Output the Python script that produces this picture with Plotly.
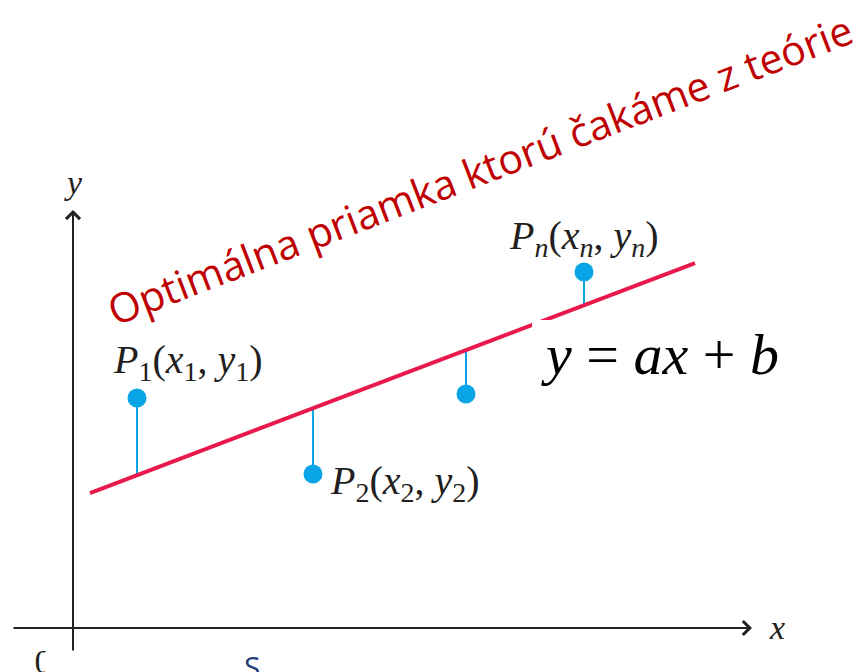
import plotly.graph_objects as go

# ---- data (origin at the axes crossing, 1 unit = 1 px) ----
point_names = ["1", "2", "3", "n"]
point_x = [64, 240, 393, 511]
point_y = [230, 154, 234, 356]
slope_a = 0.380
intercept_b = 128.5
line_x = [17, 622]

line_y = [slope_a * x + intercept_b for x in line_x]
fit_at_points = [slope_a * x + intercept_b for x in point_x]

RED = "#e8194b"
BLUE = "#0aa5e6"
INK = "#231f20"
SERIF = "Liberation Serif"

fig = go.Figure()

# stems (residuals)
for px, py, fy in zip(point_x, point_y, fit_at_points):
    fig.add_trace(go.Scatter(x=[px, px], y=[py, fy], mode="lines",
                             line=dict(color=BLUE, width=2), showlegend=False,
                             hoverinfo="skip"))

# regression line
fig.add_trace(go.Scatter(x=line_x, y=line_y, mode="lines",
                         line=dict(color=RED, width=4), showlegend=False))

# points
fig.add_trace(go.Scatter(x=point_x, y=point_y, mode="markers",
                         marker=dict(color=BLUE, size=19), showlegend=False))

# origin label (partly hidden by the white strip below, as in the reference)
fig.add_trace(go.Scatter(x=[-30], y=[-36], mode="text", text=["0"],
                         textfont=dict(family=SERIF, size=34, color=INK),
                         showlegend=False, hoverinfo="skip"))

annotations = []

# point labels
label_shift = {"1": (51, 36), "2": (92, -9), "n": (0, 34)}
for name, px, py in zip(point_names, point_x, point_y):
    if name not in label_shift:
        continue
    dx, dy = label_shift[name]
    s = "<i>n</i>" if name == "n" else name
    txt = f"<i>P</i><sub>{s}</sub>(<i>x</i><sub>{s}</sub>, <i>y</i><sub>{s}</sub>)"
    annotations.append(dict(x=px, y=py, text=txt, showarrow=False,
                            xshift=dx, yshift=dy, xanchor="center", yanchor="middle",
                            font=dict(family=SERIF, size=40, color=INK)))

# axes arrows
annotations.append(dict(x=679, y=0, ax=-61, ay=0, axref="x", ayref="y",
                        xref="x", yref="y", text="", showarrow=True,
                        arrowhead=4, arrowsize=1.35, arrowwidth=2, arrowcolor="#222"))
annotations.append(dict(x=0, y=418, ax=0, ay=-24, axref="x", ayref="y",
                        xref="x", yref="y", text="", showarrow=True,
                        arrowhead=4, arrowsize=1.35, arrowwidth=2, arrowcolor="#222"))
annotations.append(dict(x=0, y=446, text="<i>y</i>", showarrow=False,
                        font=dict(family=SERIF, size=34, color=INK)))
annotations.append(dict(x=704, y=1, text="<i>x</i>", showarrow=False,
                        font=dict(family=SERIF, size=34, color=INK)))

# equation
annotations.append(dict(x=587, y=274, text="<i>y</i> = <i>ax</i> + <i>b</i>",
                        showarrow=False, xanchor="center", yanchor="middle",
                        font=dict(family=SERIF, size=58, color="black")))

# rotated red caption
annotations.append(dict(x=407, y=459, text="Optimálna priamka ktorú čakáme z teórie",
                        showarrow=False, textangle=-21, xanchor="center", yanchor="middle",
                        font=dict(family="Open Sans", size=41, color="#c00000")))

# bottom blue letter (cut)
annotations.append(dict(x=179, y=-38, text="S", showarrow=False,
                        font=dict(family="Open Sans", size=30, color="#1f3f7a")))

shapes = [
    dict(type="rect", x0=459, x1=800, y0=218, y1=308, xref="x", yref="y",
         fillcolor="white", line=dict(width=0), layer="above"),
    dict(type="rect", x0=-28, x1=800, y0=-60, y1=-24, xref="x", yref="y",
         fillcolor="white", line=dict(width=0), layer="above"),
]

# page body has an 8px margin: shift ranges so the axes crossing lands at (73, 628)
fig.update_layout(
    width=856, height=664,
    margin=dict(l=0, r=0, t=0, b=0),
    paper_bgcolor="white", plot_bgcolor="white",
    xaxis=dict(range=[-65, 791], visible=False, fixedrange=True),
    yaxis=dict(range=[-44, 620], visible=False, fixedrange=True),
    annotations=annotations, shapes=shapes,
    showlegend=False,
)

fig.write_html("out.html")
